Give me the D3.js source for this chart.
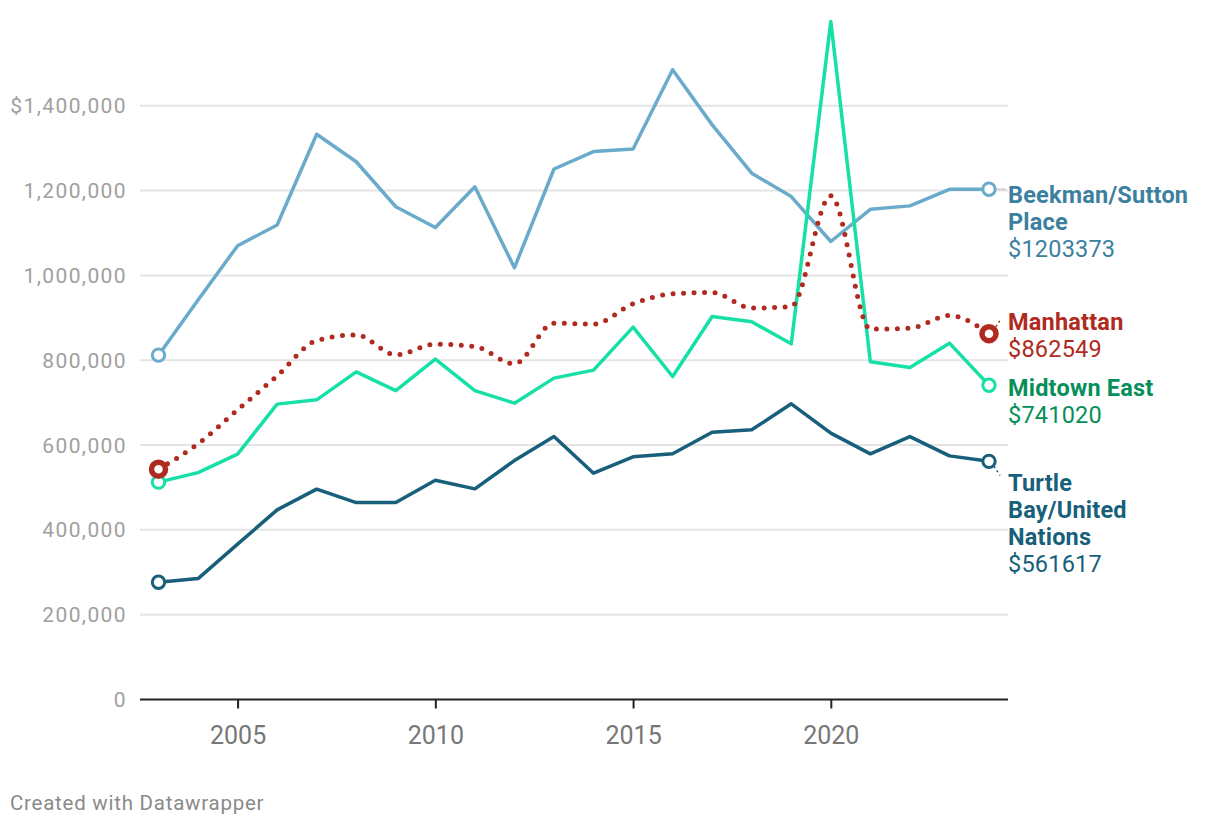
<!DOCTYPE html>
<html>
<head>
<meta charset="utf-8">
<script src="https://cdn.jsdelivr.net/npm/d3@7"></script>
<style>
  html, body { margin: 0; padding: 0; background: #fff; }
  svg { display: block; font-family: Roboto, "Noto Sans", sans-serif; }
</style>
</head>
<body>
<svg id="chart" width="1220" height="826"></svg>
<script>
const years = [2003,2004,2005,2006,2007,2008,2009,2010,2011,2012,2013,2014,2015,2016,2017,2018,2019,2020,2021,2022,2023,2024];

const beekman = [812000,942000,1070000,1119000,1333000,1268000,1162000,1113000,1209000,1018000,1251000,1292000,1298000,1485000,1355000,1241000,1186000,1080000,1156000,1164000,1203000,1203373];
const turtleBay = [276600,285100,366300,447200,496000,464400,464400,517200,496700,563400,620000,533700,572200,579300,630400,635900,697200,628100,579300,620000,574500,561617];
const midtownEast = [512500,535100,578500,696500,706600,772700,728500,802600,728500,698800,757800,776700,878100,761600,903100,890600,838700,1598800,796200,782800,840300,741020];
const manhattan = [543200,602800,683000,763200,846500,859900,812700,838000,832300,791500,887500,885100,933000,956600,959700,922900,926700,1187700,873400,875700,905400,862549];

const yTicks = [0,200000,400000,600000,800000,1000000,1200000,1400000];
const xTicks = [2005,2010,2015,2020];

const seriesNames = ["Beekman/Sutton Place","Turtle Bay/United Nations","Midtown East","Manhattan"];
const labelLines = [["Beekman/Sutton","Place"],["Turtle","Bay/United","Nations"],["Midtown East"],["Manhattan"]];
const lastValues = ["$1203373","$561617","$741020","$862549"];

const svg = d3.select("#chart");
const x = d3.scaleLinear().domain([2003,2024]).range([158.5,989]);
const y = d3.scaleLinear().domain([0,1400000]).range([699.5,105.8]);

const gridLeft = 140, gridRight = 1008;

// gridlines
svg.append("g").selectAll("line").data(yTicks.filter(d => d > 0)).join("line")
  .attr("x1", gridLeft).attr("x2", gridRight)
  .attr("y1", d => y(d)).attr("y2", d => y(d))
  .attr("stroke", "#e4e4e4").attr("stroke-width", 2);

// y labels
const fmt = d3.format(",");
svg.append("g").selectAll("text").data(yTicks).join("text")
  .attr("x", 127).attr("y", d => y(d) + 7.5)
  .attr("text-anchor", "end")
  .attr("font-size", 21).attr("letter-spacing", 1.4)
  .attr("fill", "#a0a0a0")
  .text(d => d === 1400000 ? "$" + fmt(d) : fmt(d));

// x axis
const xAxis = svg.append("g").attr("transform", `translate(0,${y(0)})`)
  .call(d3.axisBottom(x).tickValues(xTicks).tickSize(9).tickPadding(18).tickFormat(d3.format("d")));
xAxis.select(".domain").remove();
xAxis.selectAll(".tick line").attr("stroke", "#222").attr("stroke-width", 2);
xAxis.selectAll(".tick text").attr("font-size", 25).attr("fill", "#777").attr("font-family", "Roboto");
svg.append("line").attr("x1", gridLeft).attr("x2", gridRight)
  .attr("y1", y(0)).attr("y2", y(0)).attr("stroke", "#222").attr("stroke-width", 2);

const series = [
  { name: seriesNames[0], values: beekman, color: "#6aabcb", text: "#3c809f", dotted: false },
  { name: seriesNames[1], values: turtleBay, color: "#175f7a", text: "#175f7a", dotted: false },
  { name: seriesNames[2], values: midtownEast, color: "#16e0a6", text: "#078f5a", dotted: false },
  { name: seriesNames[3], values: manhattan, color: "#b02a20", text: "#b02a20", dotted: true }
];

const linearLine = d3.line().x((d,i) => x(years[i])).y(d => y(d));
const curvedLine = d3.line().x((d,i) => x(years[i])).y(d => y(d)).curve(d3.curveMonotoneX);

series.forEach(s => {
  const p = svg.append("path").datum(s.values)
    .attr("fill", "none").attr("stroke", s.color)
    .attr("stroke-linejoin", "round");
  if (s.dotted) {
    p.attr("d", curvedLine).attr("stroke-width", 5).attr("stroke-linecap", "round")
     .attr("stroke-dasharray", "0 10.5");
  } else {
    p.attr("d", linearLine).attr("stroke-width", 3.5);
  }
});

// end markers
series.forEach(s => {
  const ends = [0, s.values.length - 1];
  svg.append("g").selectAll("circle").data(ends).join("circle")
    .attr("cx", i => x(years[i])).attr("cy", i => y(s.values[i]))
    .attr("r", s.dotted ? 7 : 6.2)
    .attr("fill", "#fff").attr("stroke", s.color)
    .attr("stroke-width", s.dotted ? 5.5 : 3);
});

// leader lines
const last = years.length - 1;
svg.append("line").attr("x1", x(2024) + 8).attr("x2", 1006)
  .attr("y1", y(beekman[last])).attr("y2", y(beekman[last]))
  .attr("stroke", "#cccccc").attr("stroke-width", 1.5);
svg.append("line").attr("x1", x(2024) + 7).attr("y1", y(manhattan[last]) - 7)
  .attr("x2", 1001).attr("y2", y(manhattan[last]) - 15)
  .attr("stroke", "#b02a20").attr("stroke-width", 1.5).attr("stroke-dasharray", "2 3");
svg.append("line").attr("x1", x(2024) + 5).attr("y1", y(turtleBay[last]) + 5)
  .attr("x2", 1000).attr("y2", y(turtleBay[last]) + 14)
  .attr("stroke", "#175f7a").attr("stroke-width", 1.5).attr("stroke-dasharray", "2 3");

// right labels
const labelY = [203, 491, 396, 330];
const lh = 27;
series.forEach((s, k) => {
  const t = svg.append("text").attr("x", 1008).attr("y", labelY[k])
    .attr("font-size", 23.5).attr("letter-spacing", 0.2).attr("fill", s.text);
  labelLines[k].forEach((ln, j) => {
    t.append("tspan").attr("x", 1008).attr("dy", j === 0 ? 0 : lh)
      .attr("font-weight", 700).text(ln);
  });
  t.append("tspan").attr("x", 1008).attr("dy", lh).attr("font-weight", 400).text(lastValues[k]);
});

// footer
svg.append("text").attr("x", 10).attr("y", 810)
  .attr("font-size", 20.5).attr("letter-spacing", 0.75).attr("fill", "#8a8a8a")
  .text("Created with Datawrapper");
</script>
</body>
</html>
